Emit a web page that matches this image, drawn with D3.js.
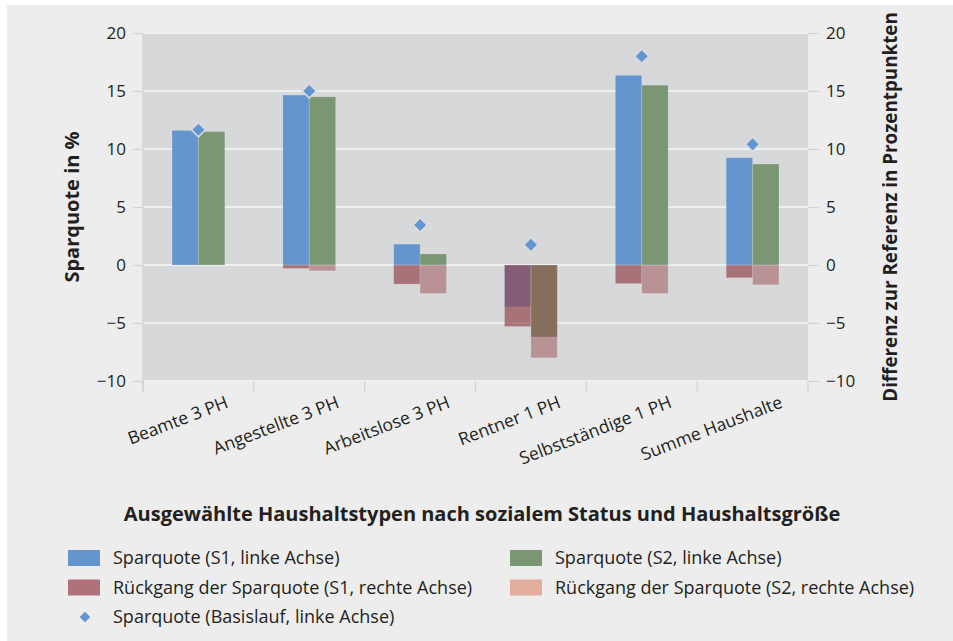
<!DOCTYPE html>
<html>
<head>
<meta charset="utf-8">
<script src="https://cdn.jsdelivr.net/npm/d3@7"></script>
<style>
  body { margin: 0; background: #fff; }
  text { font-family: "Open Sans", Lato, sans-serif; fill: #231f20; }
</style>
</head>
<body>
<div id="chart"></div>
<script>
// Data
const categories = ["Beamte 3 PH", "Angestellte 3 PH", "Arbeitslose 3 PH", "Rentner 1 PH", "Selbstständige 1 PH", "Summe Haushalte"]
const sparS1 = [11.6, 14.65, 1.8, -3.6, 16.35, 9.25]
const sparS2 = [11.5, 14.5, 0.95, -6.2, 15.5, 8.7]
const rueckS1 = [0, -0.3, -1.65, -5.3, -1.6, -1.1]
const rueckS2 = [0, -0.5, -2.45, -8.0, -2.45, -1.7]
const basislauf = [11.65, 15.0, 3.45, 1.75, 18.0, 10.4]
const yTicks = [-10, -5, 0, 5, 10, 15, 20]
const legendItems = [
    {label: "Sparquote (S1, linke Achse)", color: "#6595cf", col: 0, row: 0},
    {label: "Sparquote (S2, linke Achse)", color: "#7a9673", col: 1, row: 0},
    {label: "Rückgang der Sparquote (S1, rechte Achse)", color: "#b0727a", col: 0, row: 1},
    {label: "Rückgang der Sparquote (S2, rechte Achse)", color: "#e1ae9e", col: 1, row: 1},
    {label: "Sparquote (Basislauf, linke Achse)", color: "#6595cf", col: 0, row: 2, diamond: true}
]

//Dimensions
let width = 953,
    height = 641,
    plot = {left: 143, right: 808, top: 33, bottom: 381}

const svg = d3.select('#chart')
    .append('svg')
    .attr('width', width)
    .attr('height', height)

// background
svg.append('rect')
    .attr('x', 7).attr('y', 5)
    .attr('width', width - 7).attr('height', height - 5)
    .attr('fill', '#ededed')

svg.append('rect')
    .attr('x', plot.left).attr('y', plot.top)
    .attr('width', plot.right - plot.left).attr('height', plot.bottom - plot.top)
    .attr('fill', '#d7d8da')

// Scales
let x = d3.scaleBand().domain(categories).range([plot.left, plot.right])
let y = d3.scaleLinear().domain([-10, 20]).range([plot.bottom, plot.top])
let yRight = d3.scaleLinear().domain([-10, 20]).range([plot.bottom, plot.top])
let barW = x.bandwidth() * 0.238
let cx = d => x(d) + x.bandwidth() / 2

// Grid
svg.append('g')
    .selectAll('line')
    .data(yTicks)
    .enter()
    .append('line')
    .attr('x1', plot.left).attr('x2', plot.right)
    .attr('y1', d => y(d)).attr('y2', d => y(d))
    .attr('stroke', '#efefef')
    .attr('stroke-width', 2)

// Axes (left in %, right in Prozentpunkten)
let fmt = d => d < 0 ? '\u2212' + Math.abs(d) : d
svg.append('g')
    .attr('transform', 'translate(' + plot.left + ',0)')
    .call(d3.axisLeft(y).tickValues(yTicks).tickSize(10).tickPadding(7).tickFormat(fmt))
svg.append('g')
    .attr('transform', 'translate(' + plot.right + ',0)')
    .call(d3.axisRight(yRight).tickValues(yTicks).tickSize(11).tickPadding(7).tickFormat(fmt))
svg.selectAll('.domain').remove()
svg.selectAll('.tick line').attr('stroke', '#d2d2d2').attr('stroke-width', 1.2)
svg.selectAll('.tick text').attr('font-size', 17).attr('fill', '#231f20')

svg.append('line')
    .attr('x1', plot.left).attr('x2', plot.left)
    .attr('y1', plot.top).attr('y2', plot.bottom + 11)
    .attr('stroke', '#d2d2d2').attr('stroke-width', 1.2)

// category ticks
svg.append('g')
    .selectAll('line')
    .data(d3.range(categories.length + 1))
    .enter()
    .append('line')
    .attr('x1', i => plot.left + i * x.step()).attr('x2', i => plot.left + i * x.step())
    .attr('y1', plot.bottom).attr('y2', plot.bottom + 11)
    .attr('stroke', '#d2d2d2').attr('stroke-width', 1.2)

// Bars
function bars(values, offset, fill, opacity) {
    svg.append('g')
        .selectAll('rect')
        .data(values)
        .enter()
        .append('rect')
        .attr('x', (d, i) => cx(categories[i]) + offset)
        .attr('y', d => y(Math.max(0, d)))
        .attr('width', barW)
        .attr('height', d => Math.abs(y(d) - y(0)))
        .attr('fill', fill)
        .attr('fill-opacity', opacity)
        .attr('stroke', '#ffffff')
        .attr('stroke-opacity', 0.15)
        .attr('stroke-width', 1)
}
bars(sparS1, -barW, '#6595cf', 1)
bars(sparS2, 0, '#7a9673', 1)
bars(rueckS1, -barW, '#92424a', 0.68)
bars(rueckS2, 0, '#953e40', 0.45)

// Diamonds
svg.append('g')
    .selectAll('path')
    .data(basislauf)
    .enter()
    .append('path')
    .attr('d', d3.symbol(d3.symbolSquare, 100))
    .attr('transform', (d, i) => 'translate(' + cx(categories[i]) + ',' + y(d) + ') rotate(45)')
    .attr('fill', '#6595cf')
    .attr('stroke', '#dadbdd')
    .attr('stroke-width', 1.5)

// X labels
svg.append('g')
    .selectAll('text')
    .data(categories)
    .enter()
    .append('text')
    .attr('text-anchor', 'end')
    .attr('font-size', 17.5)
    .attr('transform', d => 'translate(' + (cx(d) + 31) + ',407) rotate(-21)')
    .text(d => d)

// Axis titles
svg.append('text')
    .attr('transform', 'translate(79,' + (plot.top + plot.bottom) / 2 + ') rotate(-90)')
    .attr('text-anchor', 'middle')
    .attr('font-size', 20)
    .attr('font-weight', 'bold')
    .text('Sparquote in %')

svg.append('text')
    .attr('transform', 'translate(897,' + (plot.top + plot.bottom) / 2 + ') rotate(-90)')
    .attr('text-anchor', 'middle')
    .attr('font-size', 18.8)
    .attr('font-weight', 'bold')
    .text('Differenz zur Referenz in Prozentpunkten')

svg.append('text')
    .attr('x', 482).attr('y', 521)
    .attr('text-anchor', 'middle')
    .attr('font-size', 20)
    .attr('font-weight', 'bold')
    .text('Ausgewählte Haushaltstypen nach sozialem Status und Haushaltsgröße')

// Legend
let legend = svg.append('g')
    .selectAll('g')
    .data(legendItems)
    .enter()
    .append('g')
    .attr('transform', d => 'translate(' + (d.col ? 510 : 68) + ',' + (558 + d.row * 29.5) + ')')

legend.filter(d => !d.diamond)
    .append('rect')
    .attr('x', 0).attr('y', -8)
    .attr('width', 32).attr('height', 16)
    .attr('fill', d => d.color)

legend.filter(d => d.diamond)
    .append('path')
    .attr('d', d3.symbol(d3.symbolSquare, 56))
    .attr('transform', 'translate(17,0) rotate(45)')
    .attr('fill', d => d.color)

legend.append('text')
    .attr('x', 45).attr('y', 6)
    .attr('font-size', 18)
    .text(d => d.label)
</script>
</body>
</html>
